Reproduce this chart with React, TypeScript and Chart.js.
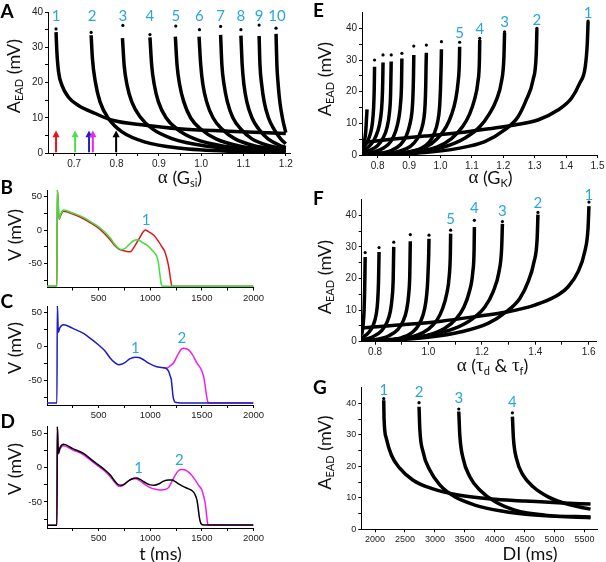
import React, { useEffect, useRef } from 'react';
import { Chart, registerables } from 'chart.js';

Chart.register(...registerables);

type Pt = [number, number];

// ================= Panel A : A_EAD vs alpha(Gsi) =================
const A_C1: Pt[] = [[0.657, 34.3], [0.659, 28.7], [0.663, 23], [0.671, 19.2], [0.686, 15.9], [0.71, 13.5], [0.75, 11.2], [0.79, 9.3], [0.868, 7.9], [0.947, 6.9], [1.065, 6.2], [1.2, 5.5]];
const A_C2: Pt[] = [[0.74, 33.4], [0.743, 26.8], [0.75, 20.1], [0.761, 14.5], [0.781, 9.8], [0.813, 6.0], [0.868, 3.1], [0.947, 1.4], [1.065, 0.5], [1.2, 0.3]];
const A_C3: Pt[] = [[0.814, 32.6], [0.818, 24.9], [0.825, 19.2], [0.836, 14.5], [0.856, 10.2], [0.884, 6.9], [0.931, 4.1], [1.01, 2.0], [1.104, 1.05], [1.2, 0.7]];
const A_C4: Pt[] = [[0.879, 32.8], [0.883, 25], [0.889, 19.5], [0.899, 14.5], [0.917, 10], [0.943, 6.8], [0.985, 4], [1.05, 2.0], [1.13, 1.1], [1.2, 0.8]];
const A_C5: Pt[] = [[0.939, 33], [0.943, 25], [0.949, 19.5], [0.959, 14.5], [0.975, 10], [0.999, 6.8], [1.035, 4], [1.09, 2.0], [1.15, 1.1], [1.2, 0.9]];
const A_C6: Pt[] = [[0.995, 33], [0.999, 25], [1.004, 19.5], [1.013, 14.5], [1.028, 10], [1.049, 6.8], [1.08, 4], [1.125, 2.1], [1.17, 1.3], [1.2, 1.0]];
const A_C7: Pt[] = [[1.046, 33.5], [1.049, 25], [1.054, 19.5], [1.062, 14.5], [1.075, 10], [1.094, 6.8], [1.12, 4], [1.16, 2.1], [1.2, 1.2]];
const A_C8: Pt[] = [[1.094, 33.3], [1.097, 25], [1.101, 19.5], [1.108, 14.5], [1.12, 10], [1.136, 6.8], [1.158, 4], [1.185, 2.2], [1.2, 1.6]];
const A_C9: Pt[] = [[1.137, 33.2], [1.139, 25], [1.143, 19.5], [1.149, 14.5], [1.159, 10], [1.172, 6.8], [1.188, 4], [1.2, 2.6]];
const A_C10: Pt[] = [[1.177, 33.8], [1.179, 25], [1.182, 19.5], [1.186, 14.5], [1.192, 10], [1.2, 5.8]];
const A_CURVES = [A_C1, A_C2, A_C3, A_C4, A_C5, A_C6, A_C7, A_C8, A_C9, A_C10];
const A_DOTS: Pt[] = [[0.657, 35.2], [0.74, 34.2], [0.815, 36.2], [0.879, 33.6], [0.94, 36.0], [0.996, 35.0], [1.046, 35.9], [1.094, 35.0], [1.137, 36.3], [1.177, 35.4]];
const A_LABELS = ['1', '2', '3', '4', '5', '6', '7', '8', '9', '10'];
const A_LABEL_X = [0.657, 0.742, 0.815, 0.879, 0.94, 0.996, 1.046, 1.094, 1.137, 1.179];
const A_LABEL_Y = 38.8;
const A_ARROW_X = [0.657, 0.702, 0.735, 0.744, 0.799];
const A_ARROW_COLORS = ['#e8141c', '#4fe04f', '#2020c8', '#e828e8', '#000000'];
const A_X_MAJOR = [0.7, 0.8, 0.9, 1.0, 1.1, 1.2];
const A_X_MINOR = [0.65, 0.75, 0.85, 0.95, 1.05, 1.15];
const A_Y_MAJOR = [0, 10, 20, 30, 40];
const A_Y_MINOR = [5, 15, 25, 35];

// ================= Panels B, C, D : voltage traces =================
const B_GREEN: Pt[] = [[0, -84], [96, -84], [100, 61], [118, 17], [135, 25], [160, 30], [250, 25.5], [354, 19], [430, 12], [500, 5], [560, -3], [613, -12], [650, -20], [690, -27], [726, -29], [760, -27], [800, -21], [840, -16], [871, -14.5], [900, -16], [935, -19.5], [980, -24], [1016, -30], [1045, -35], [1065, -40], [1080, -50], [1092, -65], [1105, -80], [1119, -84], [2000, -84]];
const B_RED: Pt[] = [[0, -84], [96, -84], [100, 61], [118, 16], [135, 23], [160, 28], [250, 24], [354, 17], [430, 10], [500, 3], [560, -6], [613, -15], [660, -24], [700, -29], [760, -31.5], [806, -32.5], [850, -24], [880, -16], [903, -10], [930, -3], [952, 0], [980, -2], [1032, -7.5], [1080, -17], [1113, -25], [1140, -32], [1161, -42.5], [1175, -52], [1184, -60], [1198, -75], [1210, -84], [2000, -84]];
const B_LABEL: Pt = [961, 15];

const C_BLUE: Pt[] = [[0, -83], [96, -83], [100, 61], [110, 21], [125, 28], [160, 32.5], [250, 27], [354, 19.5], [430, 11], [500, 2.5], [560, -6], [613, -17], [660, -24], [693, -26.6], [720, -26], [758, -23], [800, -18], [855, -15.5], [890, -16], [935, -19.3], [980, -24], [1032, -28], [1090, -30.5], [1145, -31.5], [1177, -36], [1195, -44], [1203, -48], [1212, -60], [1220, -72.6], [1230, -79], [1242, -82], [1300, -83], [2000, -83]];
const C_MAGENTA: Pt[] = [[1120, -31], [1162, -31.5], [1195, -28], [1225, -24], [1250, -17], [1274, -9.7], [1300, -4], [1322, -2.4], [1345, -3], [1371, -4.8], [1410, -12], [1452, -24], [1480, -30], [1500, -36], [1518, -45], [1532, -58], [1545, -72], [1555, -80], [1565, -83], [2000, -83]];
const C_LABEL_1: Pt = [855, -2];
const C_LABEL_2: Pt = [1307, 12];

const D_BLACK: Pt[] = [[0, -84], [96, -84], [100, 61], [110, 21], [125, 29], [160, 34.4], [250, 28], [354, 21], [430, 12], [500, 4], [560, -3], [613, -10.6], [660, -20], [693, -25], [720, -25.5], [758, -23], [800, -18], [839, -15.4], [870, -15], [903, -17], [950, -21.5], [1000, -25], [1040, -25.5], [1081, -23.7], [1130, -19.5], [1177, -17.9], [1210, -18], [1242, -20.3], [1280, -24], [1322, -27.6], [1365, -30.5], [1404, -33.4], [1430, -38], [1452, -47], [1465, -60], [1474, -71], [1485, -79], [1494, -82], [1520, -83.5], [2000, -83.5]];
const D_MAGENTA: Pt[] = [[0, -84], [96, -84], [100, 61], [110, 20], [125, 27], [160, 32], [250, 26], [354, 19], [430, 10], [500, 2], [560, -5], [613, -13], [660, -22], [693, -27], [720, -27], [758, -23], [800, -18], [855, -16], [890, -18], [935, -23], [1000, -29], [1050, -31.5], [1100, -32.4], [1150, -31.5], [1177, -29], [1210, -20], [1242, -10.6], [1275, -4], [1307, -2.4], [1330, -2.8], [1355, -4.4], [1395, -10], [1436, -18], [1470, -26], [1500, -32.4], [1518, -42], [1532, -51.7], [1545, -68], [1555, -81], [1565, -83.5], [2000, -83.5]];
const D_LABEL_1: Pt = [887, -1];
const D_LABEL_2: Pt = [1281, 11];

const T_X_MAJOR = [500, 1000, 1500, 2000];
const T_X_MINOR = [250, 750, 1250, 1750];
const V_Y_MAJOR = [-50, 0, 50];
const V_Y_MINOR = [-75, -25, 25];

// ================= Panel E : A_EAD vs alpha(GK) =================
const E_C1: Pt[] = [[0.75, 3.9], [0.843, 4.95], [0.95, 6.0], [1.056, 7.0], [1.162, 8.4], [1.236, 9.5], [1.31, 11.05], [1.374, 14.2], [1.417, 17.9], [1.443, 22.6], [1.461, 27.9], [1.4675, 35.3], [1.47, 42.1]];
const E_C2: Pt[] = [[0.75, 0], [0.843, 0.2], [0.95, 0.75], [1.056, 2.1], [1.141, 4.2], [1.204, 7.9], [1.247, 12.1], [1.273, 17.4], [1.2946, 23.7], [1.305, 32.1], [1.307, 39.7]];
const E_C3: Pt[] = [[0.75, 0], [0.822, 0.2], [0.928, 1.05], [1.013, 2.6], [1.077, 5.3], [1.125, 8.9], [1.157, 13.2], [1.178, 17.4], [1.194, 23.1], [1.202, 31], [1.204, 38.6]];
const E_C4: Pt[] = [[0.75, 0], [0.82, 0.2], [0.92, 1.0], [0.99, 2.6], [1.035, 5.2], [1.07, 8.9], [1.093, 13], [1.108, 17.4], [1.119, 23], [1.124, 30], [1.125, 36.3]];
const E_C5: Pt[] = [[0.75, 0], [0.82, 0.2], [0.9, 1.0], [0.955, 2.6], [0.99, 5.2], [1.018, 8.9], [1.036, 13], [1.048, 17.4], [1.056, 23], [1.06, 29], [1.061, 34.2]];
const E_C6: Pt[] = [[0.78, 0], [0.85, 0.3], [0.9, 0.9], [0.94, 2.2], [0.965, 4.2], [0.981, 7], [0.991, 10.5], [0.997, 15], [1.0, 21], [1.002, 28], [1.003, 33.4]];
const E_C7: Pt[] = [[0.76, 0], [0.82, 0.4], [0.87, 1.2], [0.905, 2.8], [0.925, 5], [0.939, 8], [0.947, 11.5], [0.951, 16], [0.953, 22], [0.954, 28], [0.955, 32.3]];
const E_C8: Pt[] = [[0.75, 0.1], [0.8, 0.5], [0.845, 1.5], [0.873, 3.3], [0.891, 6], [0.902, 9.5], [0.909, 13.5], [0.912, 18], [0.914, 25], [0.915, 31.6]];
const E_C9: Pt[] = [[0.75, 0.3], [0.79, 1], [0.82, 2.3], [0.842, 4.3], [0.857, 7.5], [0.867, 11.5], [0.873, 16.5], [0.876, 23], [0.877, 30.5]];
const E_C10: Pt[] = [[0.75, 0.6], [0.775, 1.5], [0.8, 3], [0.818, 5.5], [0.83, 8.8], [0.837, 13], [0.841, 19], [0.842, 24], [0.843, 29.5]];
const E_C11: Pt[] = [[0.75, 1.2], [0.77, 2.5], [0.787, 4.5], [0.8, 7.5], [0.809, 11.5], [0.814, 17], [0.816, 23], [0.817, 29.2]];
const E_C12: Pt[] = [[0.75, 2], [0.765, 3.8], [0.776, 6.5], [0.783, 10], [0.787, 15], [0.789, 21], [0.79, 27.9]];
const E_C13: Pt[] = [[0.752, 2.5], [0.758, 4.5], [0.762, 7.5], [0.764, 11], [0.766, 14.4]];
const E_CURVES = [E_C1, E_C2, E_C3, E_C4, E_C5, E_C6, E_C7, E_C8, E_C9, E_C10, E_C11, E_C12, E_C13];
const E_DOTS: Pt[] = [[1.47, 42.3], [1.307, 40.0], [1.204, 38.9], [1.125, 36.8], [1.061, 35.6], [1.003, 35.8], [0.955, 34.7], [0.915, 34.4], [0.877, 32.1], [0.843, 31.6], [0.817, 31.6], [0.79, 30.0]];
const E_LABELS = ['1', '2', '3', '4', '5'];
const E_LABEL_PTS: Pt[] = [[1.47, 44.9], [1.307, 42.6], [1.204, 42.1], [1.125, 39.7], [1.061, 38.6]];
const E_X_MAJOR = [0.8, 0.9, 1.0, 1.1, 1.2, 1.3, 1.4, 1.5];
const E_X_MINOR: number[] = [];
const E_Y_MAJOR = [0, 10, 20, 30, 40];
const E_Y_MINOR = [5, 15, 25, 35];

// ================= Panel F : A_EAD vs alpha(tau_d & tau_f) =================
const F_C1: Pt[] = [[0.75, 4.4], [0.923, 5.5], [1.048, 6.5], [1.172, 7.9], [1.298, 9.5], [1.398, 11.6], [1.473, 14.2], [1.523, 17.4], [1.56, 22.1], [1.585, 28.4], [1.5975, 35.8], [1.601, 42.9]];
const F_C2: Pt[] = [[0.75, 0.2], [0.861, 0.5], [0.998, 1.4], [1.123, 3.15], [1.223, 5.8], [1.292, 9.5], [1.342, 13.7], [1.373, 18.9], [1.395, 25.2], [1.407, 32.6], [1.41, 40.2]];
const F_C3: Pt[] = [[0.75, 0.3], [0.874, 0.75], [0.998, 2.0], [1.098, 4.2], [1.167, 7.4], [1.211, 11], [1.242, 15.8], [1.264, 22.1], [1.274, 29.5], [1.277, 37.3]];
const F_C4: Pt[] = [[0.75, 0.2], [0.8, 0.3], [0.9, 0.8], [0.995, 2.0], [1.06, 4.2], [1.105, 7.4], [1.133, 11], [1.153, 15.8], [1.166, 22], [1.171, 29.5], [1.172, 36.3]];
const F_C5: Pt[] = [[0.75, 0.2], [0.8, 0.3], [0.88, 0.8], [0.955, 2.0], [1.0, 4], [1.033, 7], [1.053, 10.5], [1.068, 15], [1.078, 21], [1.082, 28], [1.083, 34.2]];
const F_C6: Pt[] = [[0.77, 0], [0.84, 0.4], [0.9, 1.3], [0.94, 3], [0.965, 5.5], [0.98, 8.5], [0.99, 12.5], [0.996, 17.5], [0.999, 23], [1.001, 28], [1.002, 32.6]];
const F_C7: Pt[] = [[0.75, 0.1], [0.8, 0.6], [0.85, 1.8], [0.885, 3.8], [0.905, 6.5], [0.918, 10], [0.926, 15], [0.93, 21], [0.931, 26], [0.932, 31.8]];
const F_C8: Pt[] = [[0.75, 0.5], [0.79, 1.5], [0.825, 3.5], [0.845, 6.2], [0.857, 9.5], [0.864, 14], [0.868, 20], [0.869, 25], [0.87, 30]];
const F_C9: Pt[] = [[0.75, 1.2], [0.775, 2.8], [0.793, 5.2], [0.804, 8.5], [0.81, 13], [0.813, 19], [0.814, 23.5], [0.815, 28.4]];
const F_C10: Pt[] = [[0.75, 2.2], [0.755, 5], [0.759, 10], [0.761, 16], [0.762, 21], [0.763, 26.8]];
const F_CURVES = [F_C1, F_C2, F_C3, F_C4, F_C5, F_C6, F_C7, F_C8, F_C9, F_C10];
const F_DOTS: Pt[] = [[1.601, 44.2], [1.41, 40.9], [1.277, 38.0], [1.172, 38.4], [1.083, 35.3], [1.002, 33.7], [0.932, 33.9], [0.87, 31.5], [0.815, 29.8], [0.763, 28.2]];
const F_LABELS = ['1', '2', '3', '4', '5'];
const F_LABEL_PTS: Pt[] = [[1.601, 46.3], [1.41, 43.7], [1.277, 41.3], [1.172, 42.4], [1.083, 38.9]];
const F_X_MAJOR = [0.8, 1.0, 1.2, 1.4, 1.6];
const F_X_MINOR = [0.9, 1.1, 1.3, 1.5];
const F_Y_MAJOR = [0, 10, 20, 30, 40];
const F_Y_MINOR = [5, 15, 25, 35];

// ================= Panel G : A_EAD vs DI =================
const G_C1: Pt[] = [[2145, 41.0], [2150, 35.2], [2188, 28.9], [2272, 23.6], [2412, 19.4], [2635, 15.6], [2941, 13.0], [3387, 10.9], [3944, 9.6], [4502, 9.0], [5059, 8.4], [5600, 8.0]];
const G_C2: Pt[] = [[2735, 38.9], [2747, 32.1], [2802, 24.6], [2914, 18.8], [3081, 14.1], [3332, 10.3], [3666, 7.7], [4111, 5.8], [4670, 4.5], [5600, 3.7]];
const G_C3: Pt[] = [[3399, 37.4], [3416, 29.9], [3471, 22.5], [3583, 16.7], [3750, 12.5], [4001, 8.8], [4335, 6.1], [4837, 4.5], [5600, 3.9]];
const G_C4: Pt[] = [[4295, 35.8], [4312, 28.9], [4362, 22.5], [4474, 17.2], [4641, 13.5], [4892, 10.3], [5226, 7.9], [5600, 6.4]];
const G_CURVES = [G_C1, G_C2, G_C3, G_C4];
const G_DOTS: Pt[] = [[2145, 41.5], [2735, 40.2], [3399, 38.2], [4295, 37.0]];
const G_LABELS = ['1', '2', '3', '4'];
const G_LABEL_PTS: Pt[] = [[2145, 44.2], [2735, 43.7], [3399, 41.6], [4295, 40.3]];
const G_X_MAJOR = [2000, 2500, 3000, 3500, 4000, 4500, 5000, 5500];
const G_X_MINOR: number[] = [];
const G_Y_MAJOR = [0, 10, 20, 30, 40];
const G_Y_MINOR = [5, 15, 25, 35];

// ================= helpers =================
const W = 606;
const H = 562;
const YW = 40;
const XH = 30;
const CYAN = '#29a6de';
const SANS = 'Lato, "Open Sans", sans-serif';
const SERIF = '"Liberation Serif", "DejaVu Serif", serif';
const TICKF = '"Liberation Sans", Arial, sans-serif';

type Seg = { t: string; f: string; dy?: number };

function drawSegs(ctx: CanvasRenderingContext2D, segs: Seg[], cx: number, cy: number, rotate: boolean) {
  ctx.save();
  ctx.translate(cx, cy);
  if (rotate) ctx.rotate(-Math.PI / 2);
  let total = 0;
  for (const s of segs) {
    ctx.font = s.f;
    total += ctx.measureText(s.t).width;
  }
  let x = -total / 2;
  ctx.textBaseline = 'middle';
  ctx.textAlign = 'left';
  ctx.fillStyle = '#111';
  for (const s of segs) {
    ctx.font = s.f;
    ctx.fillText(s.t, x, s.dy || 0);
    x += ctx.measureText(s.t).width;
  }
  ctx.restore();
}

function decoPlugin(d: any) {
  return {
    id: 'deco',
    afterDraw(chart: any) {
      const ctx: CanvasRenderingContext2D = chart.ctx;
      const xs = chart.scales.x;
      const ys = chart.scales.y;
      ctx.save();
      if (d.arrows) {
        for (const a of d.arrows) {
          const px = xs.getPixelForValue(a.x);
          const y0 = ys.getPixelForValue(a.y0);
          const y1 = ys.getPixelForValue(a.y1);
          const yh = ys.getPixelForValue(a.yh);
          ctx.strokeStyle = a.c;
          ctx.fillStyle = a.c;
          ctx.lineWidth = 2;
          ctx.beginPath();
          ctx.moveTo(px, y0);
          ctx.lineTo(px, yh);
          ctx.stroke();
          ctx.beginPath();
          ctx.moveTo(px, y1);
          ctx.lineTo(px - 3.6, yh + 0.5);
          ctx.lineTo(px + 3.6, yh + 0.5);
          ctx.closePath();
          ctx.fill();
        }
      }
      ctx.fillStyle = '#000';
      ctx.font = 'bold 19px ' + SANS;
      ctx.textAlign = 'left';
      ctx.textBaseline = 'alphabetic';
      ctx.fillText(d.letter, d.lx, d.ly);
      if (d.yTitle) drawSegs(ctx, d.yTitle, d.ytx, d.yty, true);
      if (d.xTitle) drawSegs(ctx, d.xTitle, d.xtx, d.xty, false);
      if (d.labels) {
        ctx.fillStyle = CYAN;
        ctx.font = '15px ' + SANS;
        ctx.textAlign = 'center';
        ctx.textBaseline = 'middle';
        for (const l of d.labels) {
          ctx.fillText(l.t, xs.getPixelForValue(l.x), ys.getPixelForValue(l.y));
        }
      }
      ctx.restore();
    },
  };
}

function curveDataset(pts: Pt[], color: string, width: number) {
  return {
    data: pts.map(([x, y]) => ({ x, y })),
    showLine: true,
    borderColor: color,
    backgroundColor: color,
    borderWidth: width,
    pointRadius: 0,
    cubicInterpolationMode: 'monotone',
    fill: false,
  };
}

function dotDataset(pts: Pt[]) {
  return {
    data: pts.map(([x, y]) => ({ x, y })),
    showLine: false,
    pointRadius: 1.6,
    pointBorderWidth: 0,
    backgroundColor: '#000',
    borderColor: '#000',
  };
}

function near(list: number[], v: number) {
  return list.some((m) => Math.abs(m - v) < 1e-9);
}

function axis(min: number, max: number, major: number[], minor: number[], fmt: (v: number) => string, isY: boolean, fontSize: number) {
  const all = [...major, ...minor].sort((a, b) => a - b);
  return {
    type: 'linear',
    min,
    max,
    afterBuildTicks: (s: any) => {
      s.ticks = all.map((v) => ({ value: v }));
    },
    afterFit: (s: any) => {
      if (isY) s.width = YW;
      else s.height = XH;
      s.paddingLeft = 0;
      s.paddingRight = 0;
      s.paddingTop = 0;
      s.paddingBottom = 0;
    },
    ticks: {
      autoSkip: false,
      maxRotation: 0,
      minRotation: 0,
      padding: 2,
      color: '#222',
      font: { family: TICKF, size: fontSize },
      callback: (v: any) => (near(major, Number(v)) ? fmt(Number(v)) : ''),
    },
    grid: {
      display: true,
      drawOnChartArea: false,
      drawTicks: true,
      tickLength: 3,
      tickColor: '#000',
      tickWidth: 1,
      color: '#000',
    },
    border: { display: true, color: '#000', width: 1 },
  };
}

function makeChart(canvas: HTMLCanvasElement, p: any) {
  return new Chart(canvas, {
    type: 'scatter',
    data: { datasets: p.datasets },
    options: {
      animation: false,
      responsive: false,
      events: [],
      layout: { padding: { left: p.L - YW, right: W - p.R, top: p.T, bottom: H - p.B - XH } },
      plugins: { legend: { display: false }, tooltip: { enabled: false } },
      scales: {
        x: axis(p.xMin, p.xMax, p.xMajor, p.xMinor, p.xFmt, false, p.tick),
        y: axis(p.yMin, p.yMax, p.yMajor, p.yMinor, (v: number) => String(v), true, p.tick),
      },
    } as any,
    plugins: [decoPlugin(p.deco)],
  } as any);
}

const F18 = '18px ' + SANS;
const F11 = '11px ' + SANS;
const AEAD_TITLE: Seg[] = [{ t: 'A', f: F18 }, { t: 'EAD', f: F11, dy: 5 }, { t: ' (mV)', f: F18 }];
const V_TITLE: Seg[] = [{ t: 'V (mV)', f: F18 }];

function buildPanels() {
  const fmt1 = (v: number) => v.toFixed(1);
  const fmt0 = (v: number) => String(v);
  const A = {
    L: 48, R: 290, T: 12, B: 153,
    xMin: 0.638, xMax: 1.21, yMin: 0, yMax: 40,
    xMajor: A_X_MAJOR, xMinor: A_X_MINOR, xFmt: fmt1,
    yMajor: A_Y_MAJOR, yMinor: A_Y_MINOR, tick: 10,
    datasets: [...A_CURVES.map((c) => curveDataset(c, '#000', 3.5)), dotDataset(A_DOTS)],
    deco: {
      letter: 'A', lx: 0.5, ly: 17.5,
      yTitle: AEAD_TITLE, ytx: 14.5, yty: 76,
      xTitle: [{ t: 'α', f: '19px ' + SERIF }, { t: ' (G', f: F18 }, { t: 'si', f: F11, dy: 5 }, { t: ')', f: F18 }], xtx: 180, xty: 178,
      labels: A_LABELS.map((t, i) => ({ t, x: A_LABEL_X[i], y: A_LABEL_Y })),
      arrows: A_ARROW_X.map((x, i) => ({ x, c: A_ARROW_COLORS[i], y0: 0.2, yh: 4.6, y1: 6.4 })),
    },
  };
  const tracePanel = (letter: string, ly: number, T: number, B: number, yMin: number, sets: any[], labels: any[], yty: number, xTitle: Seg[] | null) => ({
    L: 47, R: 253.5, T, B,
    xMin: 0, xMax: 2000, yMin, yMax: 60,
    xMajor: T_X_MAJOR, xMinor: T_X_MINOR, xFmt: fmt0,
    yMajor: V_Y_MAJOR, yMinor: V_Y_MINOR, tick: 9.5,
    datasets: sets,
    deco: {
      letter, lx: 0.5, ly,
      yTitle: V_TITLE, ytx: 15, yty,
      xTitle, xtx: 160.5, xty: 554,
      labels,
    },
  });
  const Bp = tracePanel('B', 194, 190, 287.5, -86,
    [curveDataset(B_GREEN, '#3ee03e', 1.5), curveDataset(B_RED, '#e0161c', 1.5)],
    [{ t: '1', x: B_LABEL[0], y: B_LABEL[1] }], 235, null);
  const Cp = tracePanel('C', 308, 306, 405, -86,
    [curveDataset(C_BLUE, '#1c1cc8', 1.5), curveDataset(C_MAGENTA, '#ee20ee', 1.5)],
    [{ t: '1', x: C_LABEL_1[0], y: C_LABEL_1[1] }, { t: '2', x: C_LABEL_2[0], y: C_LABEL_2[1] }], 348, null);
  const Dp = tracePanel('D', 427.5, 426.7, 528, -88,
    [curveDataset(D_BLACK, '#000000', 1.5), curveDataset(D_MAGENTA, '#ee20ee', 1.5)],
    [{ t: '1', x: D_LABEL_1[0], y: D_LABEL_1[1] }, { t: '2', x: D_LABEL_2[0], y: D_LABEL_2[1] }], 469,
    [{ t: 't (ms)', f: F18 }]);
  const E = {
    L: 362, R: 597.5, T: 12.5, B: 155,
    xMin: 0.75, xMax: 1.5, yMin: 0, yMax: 45,
    xMajor: E_X_MAJOR, xMinor: E_X_MINOR, xFmt: fmt1,
    yMajor: E_Y_MAJOR, yMinor: E_Y_MINOR, tick: 10,
    datasets: [...E_CURVES.map((c) => curveDataset(c, '#000', 3.5)), dotDataset(E_DOTS)],
    deco: {
      letter: 'E', lx: 313, ly: 17,
      yTitle: AEAD_TITLE, ytx: 325.5, yty: 79,
      xTitle: [{ t: 'α', f: '19px ' + SERIF }, { t: ' (G', f: F18 }, { t: 'K', f: F11, dy: 5 }, { t: ')', f: F18 }], xtx: 490.5, xty: 178,
      labels: E_LABELS.map((t, i) => ({ t, x: E_LABEL_PTS[i][0], y: E_LABEL_PTS[i][1] })),
    },
  };
  const F = {
    L: 361.7, R: 596.7, T: 199.5, B: 341.7,
    xMin: 0.75, xMax: 1.63, yMin: 0, yMax: 45,
    xMajor: F_X_MAJOR, xMinor: F_X_MINOR, xFmt: fmt1,
    yMajor: F_Y_MAJOR, yMinor: F_Y_MINOR, tick: 10,
    datasets: [...F_CURVES.map((c) => curveDataset(c, '#000', 3.5)), dotDataset(F_DOTS)],
    deco: {
      letter: 'F', lx: 313, ly: 205,
      yTitle: AEAD_TITLE, ytx: 325.5, yty: 277,
      xTitle: [
        { t: 'α', f: '19px ' + SERIF }, { t: ' (', f: F18 }, { t: 'τ', f: '19px ' + SERIF }, { t: 'd', f: F11, dy: 5 },
        { t: ' & ', f: F18 }, { t: 'τ', f: '19px ' + SERIF }, { t: 'f', f: F11, dy: 5 }, { t: ')', f: F18 },
      ],
      xtx: 492.5, xty: 366,
      labels: F_LABELS.map((t, i) => ({ t, x: F_LABEL_PTS[i][0], y: F_LABEL_PTS[i][1] })),
    },
  };
  const G = {
    L: 361.3, R: 597.7, T: 387.6, B: 529.3,
    xMin: 1770, xMax: 5720, yMin: 0, yMax: 45,
    xMajor: G_X_MAJOR, xMinor: G_X_MINOR, xFmt: fmt0,
    yMajor: G_Y_MAJOR, yMinor: G_Y_MINOR, tick: 9,
    datasets: [...G_CURVES.map((c) => curveDataset(c, '#000', 3.5)), dotDataset(G_DOTS)],
    deco: {
      letter: 'G', lx: 313, ly: 393.5,
      yTitle: AEAD_TITLE, ytx: 325.5, yty: 452.5,
      xTitle: [{ t: 'DI (ms)', f: F18 }], xtx: 530, xty: 554,
      labels: G_LABELS.map((t, i) => ({ t, x: G_LABEL_PTS[i][0], y: G_LABEL_PTS[i][1] })),
    },
  };
  return [A, Bp, Cp, Dp, E, F, G];
}

export default function App() {
  const refs = useRef<(HTMLCanvasElement | null)[]>([]);
  useEffect(() => {
    const panels = buildPanels();
    const charts = panels.map((p, i) => makeChart(refs.current[i] as HTMLCanvasElement, p));
    return () => charts.forEach((c) => c.destroy());
  }, []);
  return (
    <div style={{ position: 'absolute', left: 0, top: 0, width: W, height: H, background: '#fff', overflow: 'hidden' }}>
      {[0, 1, 2, 3, 4, 5, 6].map((i) => (
        <canvas
          key={i}
          ref={(el) => {
            refs.current[i] = el;
          }}
          width={W}
          height={H}
          style={{ position: 'absolute', left: 0, top: 0, width: W, height: H }}
        />
      ))}
    </div>
  );
}
